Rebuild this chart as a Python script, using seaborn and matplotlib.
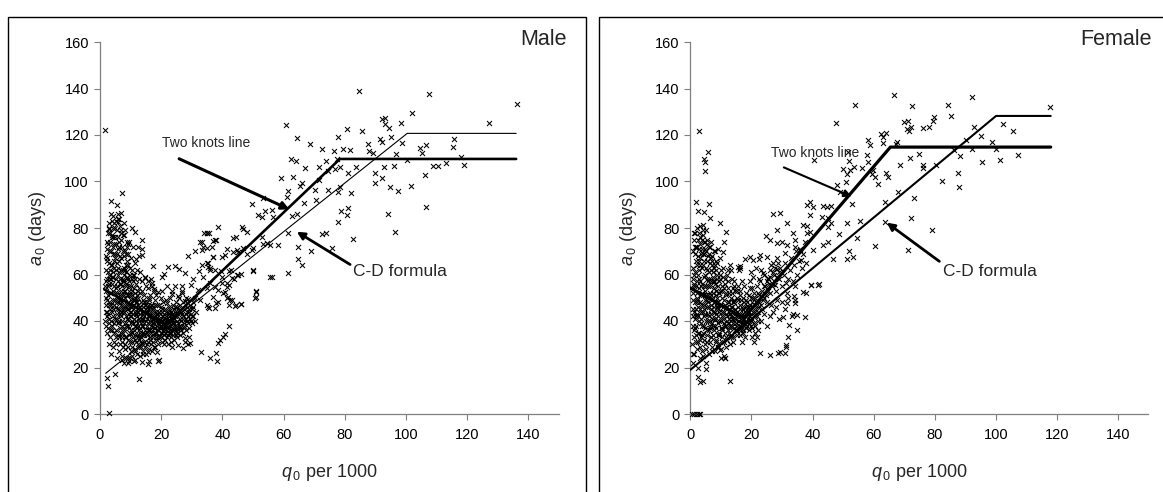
import numpy as np
import pandas as pd
import matplotlib
matplotlib.use("Agg")
import matplotlib.pyplot as plt
from matplotlib.patches import Rectangle
import seaborn as sns

# ---------------- data ----------------
# Male: dense cluster at low q0
male_cluster = [
(1.6,40),(1.8,47),(1.7,55),(2.0,62),(2.2,35),(2.1,68),(2.4,44),(2.6,51),(2.3,58),(2.8,30),(2.7,73),(2.9,65),(2.5,78),(1.9,50),(2.2,42),(2.6,37),(2.9,56),(3.0,48),(2.4,66),(2.0,53),(2.7,43),(3.0,60),(2.3,71),(1.8,57),(2.9,39),
(3.2,33),(3.4,45),(3.6,52),(3.3,58),(3.8,64),(3.5,70),(3.9,76),(3.1,82),(4.2,29),(4.0,38),(4.4,42),(4.1,49),(4.6,55),(4.3,61),(4.8,67),(4.5,73),(4.9,80),(4.2,85),(3.7,40),(3.4,62),(4.7,47),(3.9,56),(4.5,35),(3.2,74),(4.8,52),(3.6,47),(4.1,69),(4.4,59),(3.8,44),(4.9,41),(3.3,36),(4.6,63),(4.0,77),(3.5,26),(4.7,31),
(5.1,30),(5.3,36),(5.5,41),(5.2,46),(5.7,50),(5.4,55),(5.9,60),(5.6,65),(5.8,71),(5.0,76),(5.3,83),(6.1,27),(6.3,33),(6.0,39),(6.5,43),(6.2,48),(6.7,53),(6.4,58),(6.9,62),(6.6,68),(6.1,74),(6.8,79),(6.3,84),(6.0,86),(5.5,45),(6.5,37),(5.8,57),(6.7,44),(5.2,62),(6.4,51),(5.9,34),(6.9,56),(5.4,69),(6.2,40),(5.6,52),(6.8,47),(5.1,58),(6.6,30),(5.7,24),(6.3,72),
(7.1,25),(7.3,31),(7.5,35),(7.2,40),(7.7,44),(7.4,49),(7.9,53),(7.6,58),(7.8,63),(7.0,67),(7.3,72),(7.6,77),(7.9,82),(8.1,28),(8.3,33),(8.0,37),(8.5,42),(8.2,46),(8.7,51),(8.4,55),(8.9,59),(8.6,64),(8.1,70),(8.8,74),(8.3,79),(7.4,45),(8.5,38),(7.8,51),(8.7,47),(7.2,55),(8.4,61),(7.9,36),(8.9,41),(7.5,62),(8.2,53),(7.6,29),(8.6,33),(7.1,48),(8.0,57),(8.8,66),(7.7,22),(8.4,24),
(9.1,24),(9.3,29),(9.5,34),(9.2,38),(9.7,42),(9.4,47),(9.9,51),(9.6,55),(9.8,60),(9.0,64),(9.3,69),(9.6,74),(10.1,27),(10.3,31),(10.0,36),(10.5,40),(10.2,44),(10.7,49),(10.4,53),(10.9,57),(10.6,62),(10.1,67),(10.8,72),(9.4,43),(10.5,46),(9.8,35),(10.7,39),(9.2,51),(10.4,58),(9.9,31),(10.9,33),(9.5,57),(10.2,49),(9.6,23),(10.6,25),(9.1,45),(10.0,42),
(11.1,23),(11.3,28),(11.5,32),(11.2,36),(11.7,40),(11.4,44),(11.9,48),(11.6,52),(11.8,56),(11.0,60),(11.3,65),(12.1,26),(12.3,30),(12.0,34),(12.5,38),(12.2,42),(12.7,46),(12.4,50),(12.9,54),(12.6,58),(12.1,62),(12.8,68),(11.4,38),(12.5,44),(11.8,31),(12.7,36),(11.2,49),(12.4,53),(11.9,43),(12.9,41),(11.5,46),(12.2,48),(11.6,58),(12.6,32),
(13.1,25),(13.3,29),(13.5,33),(13.2,37),(13.7,41),(13.4,45),(13.9,49),(13.6,53),(13.8,57),(13.0,61),(14.1,27),(14.3,31),(14.0,35),(14.5,39),(14.2,43),(14.7,47),(14.4,51),(14.9,55),(14.6,59),(13.4,39),(14.5,42),(13.8,34),(14.7,36),(13.2,46),(14.4,48),(13.9,44),(14.9,45),(13.6,30),(14.2,26),
(15.1,26),(15.3,30),(15.5,34),(15.2,38),(15.7,42),(15.4,46),(15.9,50),(15.6,54),(15.8,57),(16.1,28),(16.3,32),(16.0,36),(16.5,40),(16.2,44),(16.7,47),(16.4,51),(16.9,55),(15.4,41),(16.5,43),(15.8,36),(16.7,38),(15.2,48),(16.4,33),(15.9,45),(16.9,40),(16.0,23),
(17.1,27),(17.3,31),(17.5,35),(17.2,39),(17.7,42),(17.4,46),(17.9,49),(17.6,53),(18.1,29),(18.3,33),(18.0,37),(18.5,40),(18.2,44),(18.7,47),(18.4,51),(17.4,41),(18.5,43),(17.8,37),(18.7,38),(17.2,45),(18.4,35),(18.9,41),
(19.1,30),(19.3,34),(19.5,37),(19.2,40),(19.7,43),(19.4,47),(19.9,50),(20.1,31),(20.3,35),(20.0,38),(20.5,41),(20.2,44),(20.7,48),(20.4,53),(21.1,32),(21.3,36),(21.0,39),(21.5,42),(21.2,45),(21.7,49),(21.9,55),(19.6,38),(20.6,36),(21.4,40),(20.9,43),(21.8,37),(19.8,33),(20.8,30),
(22.1,30),(22.3,34),(22.5,37),(22.2,40),(22.7,43),(22.4,46),(22.9,50),(23.1,31),(23.3,35),(23.0,38),(23.5,41),(23.2,44),(23.7,47),(23.4,53),(24.1,32),(24.3,36),(24.0,39),(24.5,42),(24.2,45),(24.7,48),(24.4,55),(25.1,33),(25.3,37),(25.0,40),(25.5,43),(25.2,46),(25.7,50),(22.6,39),(23.6,36),(24.6,38),(25.6,35),(23.9,42),(22.8,35),(24.8,34),(25.9,38),
(26.1,34),(26.3,38),(26.0,41),(26.5,44),(26.2,47),(26.7,52),(27.1,35),(27.3,39),(27.0,42),(27.5,45),(27.2,48),(27.7,31),(28.1,36),(28.3,40),(28.0,43),(28.5,46),(28.2,50),(28.7,30),(29.1,37),(29.3,41),(29.0,44),(29.5,47),(29.2,33),(30.1,39),(30.3,42),(30.0,45),(30.5,48),(31.1,40),(31.3,44),(26.6,36),(27.6,37),(28.6,39),(29.6,40),
]
# Male: the darkest core of the cluster
male_core = [
(1.9,44),(2.1,38),(2.3,49),(2.5,55),(2.7,61),(2.2,67),(2.8,47),(3.1,41),(3.3,52),(3.5,64),(3.7,58),(3.0,70),(3.9,36),(4.1,45),(4.3,53),(4.5,66),(4.0,59),(4.7,39),(4.9,49),(4.4,76),(5.2,33),(5.4,43),(5.6,48),(5.1,54),(5.8,63),(5.3,73),(5.9,39),(6.2,45),(6.4,56),(6.6,49),(6.1,61),(6.8,35),(6.3,66),(6.7,78),(7.0,42),(7.2,51),(7.4,57),(7.6,46),(7.1,38),(7.8,60),(7.3,33),(7.7,68),(8.0,44),(8.2,50),(8.4,39),(8.6,56),(8.1,62),(8.8,45),(8.3,30),(8.7,72),(9.0,41),(9.2,48),(9.4,53),(9.6,37),(9.1,58),(9.8,44),(9.3,32),(9.7,63),(10.0,46),(10.2,39),(10.4,51),(10.6,35),(10.1,55),(10.8,43),(10.3,29),(10.7,60),(11.0,41),(11.2,47),(11.4,34),(11.6,50),(11.1,54),(11.8,38),(11.3,27),(12.0,44),(12.2,37),(12.4,47),(12.6,29),(12.1,51),(12.8,40),(12.3,33),(13.0,43),(13.2,35),(13.4,48),(13.6,38),(13.1,52),(13.8,31),(14.0,46),(14.2,38),(14.4,34),(14.6,44),(14.1,41),(14.8,29),(15.0,40),(15.2,35),(15.4,44),(15.6,31),(15.1,47),(15.8,39),(16.0,42),(16.2,36),(16.4,46),(16.6,30),(16.1,49),(16.8,35),(17.0,41),(17.2,33),(17.4,38),(17.6,44),(17.1,47),(17.8,29),(18.0,40),(18.2,35),(18.4,42),(18.6,32),(18.1,47),(18.8,36),(19.0,39),(19.2,33),(19.4,44),(19.6,41),(19.1,36),(19.8,46),(20.0,35),(20.2,40),(20.4,38),(20.6,42),(20.1,45),(20.8,34),(21.0,37),(21.2,41),(21.4,35),(21.6,44),(21.1,38),(21.8,40),(22.0,33),(22.2,38),(22.4,42),(22.6,35),(22.1,44),(22.8,40),(23.0,36),(23.2,33),(23.4,39),(23.6,43),(23.1,41),(23.8,37),(24.0,34),(24.2,41),(24.4,37),(24.6,44),(24.1,39),(24.8,36),(25.0,35),(25.2,42),(25.4,39),(25.6,45),(26.0,37),(26.4,40),(26.8,43),(27.2,41),(27.6,38),(28.0,41),(28.4,44),(28.8,42),(29.2,45),(29.6,43),(30.0,42),(30.4,46),
(2.4,74),(2.8,80),(3.4,78),(3.8,83),(4.3,72),(4.7,82),(5.0,69),(5.5,79),(6.0,76),(6.5,81),(7.0,75),(7.5,70),(8.0,77),(8.5,69),(9.0,73),(3.6,86),(5.8,84),(4.1,80),
]
# Male: scattered points
male_spread = [
(1.6,122),(136.2,133.3),
(84.7,138.9),(107.4,137.6),(127.0,125.0),(60.8,124.3),(102.1,129.3),(92.1,126.7),(93.3,127.5),(93.0,124.6),(94.6,123.2),(98.4,125.3),
(64.4,118.9),(68.5,116.1),(72.7,114.0),(77.9,119.3),(80.7,122.6),(85.5,121.9),(76.5,113.1),(79.5,113.8),(81.8,113.5),(87.7,116.1),(91.5,118.1),(92.1,117.1),(95.1,119.3),(98.6,116.4),(87.9,113.0),(89.3,112.1),(96.6,111.8),(104.6,114.3),(106.4,115.7),(115.7,118.1),(115.5,114.7),(105.1,112.1),
(62.5,109.5),(64.1,108.8),(67.0,105.9),(71.5,106.4),(73.8,109.0),(77.6,109.7),(74.6,104.5),(76.8,105.4),(78.4,106.4),(81.2,103.5),(83.7,106.4),(89.9,103.8),(92.9,106.4),(96.1,106.7),(100.2,109.2),(108.9,106.7),(110.6,106.7),(113.1,107.8),(119.1,107.1),(118.0,110.4),(106.3,102.7),
(89.9,99.5),(92.3,101.4),(94.8,97.8),(97.4,95.9),(101.7,98.2),(59.3,101.6),(63.2,102.1),(65.4,98.1),(65.9,99.2),(61.3,95.9),(61.2,93.5),(70.3,96.3),(71.6,100.6),(74.4,96.3),(77.7,95.3),(78.4,97.8),(82.0,94.9),
(49.6,90.3),(53.2,93.0),(51.7,85.6),(52.8,84.6),(54.0,87.5),(56.2,87.7),(56.6,84.6),(62.8,85.2),(64.4,86.0),(66.8,90.6),(70.5,92.0),(78.7,87.3),(81.0,88.5),(80.8,85.6),(77.9,82.7),(94.1,86.0),(106.4,89.2),
(61.5,78.0),(72.4,77.3),(73.9,78.0),(96.4,78.4),(82.6,75.1),(75.7,71.3),
(38.7,80.3),(46.3,80.6),(46.8,79.4),(48.1,78.4),(44.3,76.3),(43.6,75.6),(35.1,77.7),(37.0,74.6),(37.9,74.8),
(41.4,71.0),(44.7,70.5),(46.8,71.3),(50.1,71.3),(53.4,73.1),(55.5,72.7),(58.3,72.7),(64.6,72.0),(68.9,70.1),(64.8,66.5),(65.9,64.1),(56.1,59.1),(61.5,60.5),
(36.8,67.4),(35.1,64.8),(35.9,61.9),(39.4,61.6),(42.0,61.5),(46.0,60.2),(49.9,61.6),(43.9,57.9),(42.3,55.5),(40.1,52.2),(41.6,50.0),(43.0,49.0),(44.5,46.8),(46.0,47.3),(50.9,53.0),(50.7,50.1),(35.7,45.7),(37.6,45.6),
(32.7,74.1),(34.9,77.7),(37.6,74.8),(33.2,70.5),(34.9,71.3),(36.5,72.0),(37.0,67.7),(39.8,67.7),(40.8,68.4),(43.6,69.8),(45.2,69.8),(47.9,68.8),(49.6,70.5),(33.2,64.1),(35.4,64.8),(35.9,62.7),(37.6,61.9),(39.8,59.1),(41.4,56.2),(43.0,58.4),(44.7,59.8),(35.9,56.2),(33.8,59.1),(37.6,54.8),(38.7,53.3),(37.0,50.5),(40.8,52.6),(42.5,49.0),(34.9,46.9),(37.9,47.6),(32.7,49.0),(54.5,73.4),(52.8,76.3),
(38.7,48.3),(41.7,50.2),(42.2,46.9),(44.1,46.5),(46.1,47.3),(35.4,46.2),(50.9,52.6),(50.9,50.2),(55.6,59.1),(49.9,61.9),(45.2,59.8),(42.8,61.9),(35.4,63.4),(39.8,56.5),(41.4,54.5),
(35.9,24.2),(37.8,26.4),(38.1,22.9),(38.5,30.7),(39.3,32.0),(40.1,33.0),(40.8,34.4),(42.2,38.0),(33.0,26.7),
(7.1,95.2),(3.6,91.6),(5.4,89.9),(6.9,86.3),(6.0,82.7),(2.9,79.4),(10.3,79.9),(11.4,78.4),(13.6,74.8),(12.3,71.7),(13.8,70.8),(11.7,66.5),(13.8,68.4),(17.4,63.7),(20.4,59.1),(20.8,60.2),(22.3,63.1),(24.5,63.8),(25.9,62.2),(27.8,60.5),(28.9,68.0),(31.0,70.3),(33.2,74.1),(33.8,71.7),(34.1,78.0),(35.6,77.7),(32.4,61.6),(30.5,57.9),(29.7,55.5),(26.9,53.0),(26.7,55.1),(25.6,50.8),(23.6,51.6),(21.8,47.6),(22.9,44.7),(24.5,46.2),(27.8,48.7),(28.9,49.3),(31.0,49.8),(32.1,53.3),(34.9,54.1),(17.8,53.8),(18.8,52.3),(16.9,56.2),(16.7,57.9),(14.7,58.4),
(2.4,15.3),(2.6,12.2),(4.8,17.3),(3.1,0.3),(7.1,23.2),(9.3,22.1),(9.8,23.9),(11.4,23.2),(12.7,14.9),(13.6,22.5),(15.6,21.5),(18.8,22.9),(19.3,23.2),(15.6,26.8),(18.5,26.8),(23.6,28.7),(25.6,29.7),(27.2,28.2),(29.4,30.7),(27.8,32.5),
]

# Female: dense cluster at low q0
female_cluster = [
(0.6,30),(0.8,38),(0.7,45),(1.0,52),(1.2,26),(1.1,60),(1.4,41),(1.6,48),(1.3,56),(1.8,34),(1.7,66),(1.9,72),(1.5,78),(0.9,63),(1.2,44),(1.6,37),(1.9,55),(2.0,49),(1.4,69),(1.0,22),(1.7,31),(0.7,58),(1.3,75),(1.8,42),(1.1,36),
(2.2,28),(2.4,35),(2.6,42),(2.3,48),(2.8,54),(2.5,60),(2.9,66),(2.1,72),(2.7,78),(3.2,24),(3.0,32),(3.4,39),(3.1,45),(3.6,51),(3.3,57),(3.8,63),(3.5,69),(3.9,75),(3.2,81),(2.6,46),(3.7,38),(2.9,58),(3.5,44),(2.3,64),(3.8,52),(2.5,31),(3.1,67),(3.4,55),(2.8,40),(3.9,47),(2.2,52),(3.6,33),(3.0,73),(2.4,20),(3.7,27),
(4.1,25),(4.3,32),(4.5,38),(4.2,44),(4.7,49),(4.4,55),(4.9,60),(4.6,66),(4.8,71),(4.0,77),(5.1,28),(5.3,34),(5.0,40),(5.5,46),(5.2,51),(5.7,57),(5.4,62),(5.9,68),(5.6,73),(5.1,79),(4.5,42),(5.5,36),(4.8,53),(5.7,48),(4.2,64),(5.4,58),(4.9,30),(5.9,43),(4.4,69),(5.2,22),(4.6,47),(5.8,55),(4.1,35),(5.3,66),(4.7,74),
(6.1,26),(6.3,31),(6.5,37),(6.2,42),(6.7,47),(6.4,52),(6.9,57),(6.6,62),(6.8,67),(6.0,72),(7.1,29),(7.3,34),(7.0,39),(7.5,44),(7.2,49),(7.7,54),(7.4,59),(7.9,64),(7.6,70),(6.4,40),(7.5,38),(6.8,51),(7.7,46),(6.2,58),(7.4,52),(6.9,33),(7.9,41),(6.5,65),(7.2,27),(6.6,45),(7.8,57),(6.1,36),(7.3,61),(6.7,74),(7.1,68),
(8.1,27),(8.3,32),(8.5,37),(8.2,41),(8.7,46),(8.4,51),(8.9,55),(8.6,60),(8.8,65),(8.0,70),(9.1,30),(9.3,35),(9.0,39),(9.5,44),(9.2,48),(9.7,53),(9.4,57),(9.9,62),(9.6,67),(8.4,43),(9.5,40),(8.8,50),(9.7,47),(8.2,56),(9.4,52),(8.9,34),(9.9,37),(8.5,62),(9.2,29),(8.6,48),(9.8,58),
(10.1,28),(10.3,33),(10.5,37),(10.2,42),(10.7,46),(10.4,50),(10.9,54),(10.6,59),(10.8,63),(11.1,31),(11.3,35),(11.0,39),(11.5,43),(11.2,47),(11.7,51),(11.4,56),(11.9,60),(12.1,32),(12.3,36),(12.0,40),(12.5,44),(12.2,48),(12.7,52),(12.4,57),(10.4,44),(11.5,38),(12.6,41),(11.8,46),(10.2,53),(12.9,38),(11.6,29),(12.2,62),(10.9,25),(11.3,24),
(13.1,30),(13.3,34),(13.5,38),(13.2,42),(13.7,46),(13.4,50),(13.9,54),(13.6,58),(14.1,33),(14.3,37),(14.0,41),(14.5,45),(14.2,49),(14.7,53),(14.4,57),(15.1,34),(15.3,38),(15.0,42),(15.5,46),(15.2,50),(15.7,55),(13.4,40),(14.5,43),(15.6,40),(14.8,36),(13.8,48),(15.9,37),(13.3,62),(14.0,31),
(16.1,34),(16.3,38),(16.5,41),(16.2,45),(16.7,49),(16.4,53),(16.9,57),(17.1,36),(17.3,39),(17.0,43),(17.5,46),(17.2,50),(17.7,55),(18.1,37),(18.3,40),(18.0,44),(18.5,48),(18.2,52),(18.7,38),(16.6,36),(17.6,41),(18.6,43),(17.8,33),(16.8,31),(18.9,46),(16.0,62),(16.4,63),
(19.1,36),(19.3,39),(19.5,42),(19.2,46),(19.7,50),(19.4,54),(20.1,33),(20.3,37),(20.0,40),(20.5,44),(20.2,48),(20.7,52),(21.1,35),(21.3,38),(21.0,42),(21.5,46),(21.2,50),(21.7,55),(22.1,36),(22.3,40),(22.0,44),(22.5,48),(22.2,52),(19.6,57),(20.8,31),(21.8,33),(20.6,59),(22.6,58),(19.9,61),(21.4,63),
(23.5,45),(24.0,50),(24.5,55),(25.0,48),(25.5,58),(26.0,52),(26.5,47),(27.0,56),(27.5,60),(28.0,53),(28.5,49),(29.0,58),(29.5,63),(30.0,55),(30.5,60),(31.0,65),(31.5,52),(32.0,58),(32.5,62),(33.0,67),(33.5,57),(34.0,64),(34.5,70),(35.0,60),(35.5,66),(36.0,71),(36.5,63),(37.0,69),(37.5,74),(38.0,65),(23.0,40),(24.0,43),(25.0,38),(26.0,42),(27.0,44),(28.0,46),(29.0,41),(30.0,48),(31.0,45),(32.0,50),(23.2,62),(24.2,60),(26.3,64),(28.2,67),(22.8,57),
]
# Female: the darkest core of the cluster
female_core = [
(0.7,42),(0.9,49),(1.1,55),(1.3,33),(1.5,61),(0.8,26),(1.7,45),(1.9,38),(2.1,57),(2.3,43),(2.5,68),(2.7,35),(2.2,50),(2.9,62),(3.1,29),(3.3,48),(3.5,41),(3.7,56),(3.2,64),(3.9,34),(4.1,51),(4.3,45),(4.5,59),(4.7,37),(4.2,69),(4.9,43),(5.1,55),(5.3,31),(5.5,49),(5.7,40),(5.2,63),(5.9,51),(6.1,46),(6.3,38),(6.5,55),(6.7,33),(6.2,61),(6.9,43),(7.1,50),(7.3,41),(7.5,57),(7.7,36),(7.2,64),(7.9,48),(8.1,44),(8.3,53),(8.5,31),(8.7,58),(8.2,38),(8.9,47),(9.1,42),(9.3,52),(9.5,34),(9.7,60),(9.2,45),(9.9,40),(10.1,47),(10.3,36),(10.5,55),(10.7,41),(10.2,31),(10.9,49),(11.1,44),(11.3,38),(11.5,52),(11.7,33),(11.2,58),(11.9,42),(12.1,46),(12.3,39),(12.5,35),(12.7,48),(12.2,54),(12.9,43),(13.1,37),(13.3,46),(13.5,41),(13.7,52),(13.2,33),(13.9,39),(14.1,44),(14.3,48),(14.5,36),(14.7,41),(14.2,55),(14.9,39),(15.1,44),(15.3,36),(15.5,49),(15.7,42),(15.2,53),(15.9,40),(16.1,43),(16.3,47),(16.5,37),(16.7,42),(16.2,51),(16.9,39),(17.1,41),(17.3,45),(17.5,38),(17.7,48),(17.2,35),(17.9,42),(18.1,40),(18.3,46),(18.5,38),(18.7,42),(18.2,49),(18.9,44),(19.1,40),(19.3,44),(19.5,47),(19.7,38),(19.2,51),(19.9,43),(20.1,41),(20.3,46),(20.5,50),(20.7,39),(20.2,54),(21.0,44),(21.4,48),(21.8,42),(22.2,46),(22.6,51),(23.0,47),(23.4,53),(23.8,49),(24.2,55),(24.6,51),(25.0,57),(25.4,53),(25.8,56),(26.2,59),(26.6,55),(27.0,61),(27.4,57),(27.8,63),(28.2,59),(28.6,65),(29.0,61),
(0.8,70),(1.2,78),(1.6,72),(2.0,80),(2.4,75),(2.8,71),(3.3,76),(3.7,71),(4.2,79),(4.6,74),(5.0,70),(5.5,75),(6.0,69),(6.4,72),(7.0,66),(7.6,63),(8.3,66),
]
# Female: scattered points
female_spread = [
(2.8,121.9),(4.4,109.5),(4.7,108.5),(5.9,112.5),(4.7,104.6),(1.8,91.3),(2.5,87.5),(4.5,86.7),(6.1,90.3),(6.3,84.4),(4.1,81.3),(9.6,82.0),(11.8,78.4),(9.0,70.8),(10.7,69.8),(11.0,74.1),(13.1,64.1),(15.6,63.1),(16.1,63.7),(17.8,66.5),(19.4,67.7),(20.5,66.2),(22.5,66.5),(22.9,68.4),
(0.6,0),(1.3,0),(2.0,0),(2.8,0),(3.3,0),
(2.5,16.1),(3.0,13.9),(4.1,14.2),(5.2,19.2),(12.9,14.2),(10.1,23.9),(11.2,23.9),(9.6,27.5),
(22.9,26.4),(26.0,25.4),(28.7,26.4),(29.5,26.8),(30.9,26.4),(32.0,33.3),(31.2,29.7),(31.4,29.0),
(30.3,41.9),(34.2,47.6),(33.8,50.8),(38.0,51.9),(39.6,55.5),(42.0,55.8),
(66.8,137.2),(92.3,136.2),(53.9,132.9),(72.7,132.5),(84.5,132.9),(85.4,128.2),(47.8,125.3),(69.9,125.7),(71.2,126.2),(70.8,122.4),(72.1,123.3),(71.7,121.7),(76.1,122.9),(78.3,123.3),(79.3,126.2),(79.9,127.6),
(64.1,121.0),(63.2,119.3),(62.3,120.4),(58.1,117.9),(58.8,115.7),(63.2,116.4),(67.8,117.1),(67.3,116.1),(93.0,123.3),(102.5,124.7),(105.8,121.9),(95.1,119.6),(98.9,117.1),(90.3,117.9),(92.3,114.1),(100.1,114.1),(107.2,111.4),(101.4,109.2),(95.4,108.5),(88.3,111.0),(86.3,113.5),
(75.0,111.7),(71.9,110.0),(68.6,107.1),(76.1,107.1),(76.3,105.7),(80.5,107.1),(87.5,103.8),(87.9,97.8),(82.5,100.4),(73.3,92.8),(68.1,95.6),(72.2,84.4),(79.0,79.1),(71.2,70.5),(60.5,72.3),(63.7,91.3),(63.7,82.7),
(64.8,102.1),(64.0,103.5),(61.5,98.8),(60.4,102.1),(59.4,103.2),(59.9,104.9),(58.3,108.5),(56.1,105.9),(53.6,106.1),(52.3,104.9),(50.1,105.4),(51.4,103.1),(50.9,99.9),(48.1,98.5),(49.0,95.6),(52.1,108.8),(51.5,112.8),(57.7,111.4),(40.6,109.2),
(39.2,91.3),(38.1,89.9),(40.3,88.9),(43.3,89.5),(44.6,89.2),(45.9,89.5),(39.2,85.6),(43.0,84.9),(45.2,84.2),(46.0,82.3),(45.2,80.6),(52.8,90.3),(51.2,82.3),(55.5,83.2),(48.8,77.4),(54.5,75.6),(52.1,70.3),(53.4,67.7),(51.2,66.5),(45.2,74.1),(43.5,72.7),(46.6,66.5),(40.3,70.5),(36.1,66.2),
(27.0,86.0),(29.3,86.6),(31.5,82.0),(28.5,79.1),(24.8,76.6),(26.1,74.8),(28.3,73.7),(29.9,74.1),(31.5,72.7),(33.7,77.7),(34.2,74.8),(37.0,81.3),(38.1,80.9),(38.1,77.7),(39.2,78.4),(34.2,72.0),(35.9,70.5),(31.0,69.4),
(25.2,67.7),(26.9,65.1),(23.9,60.5),(26.1,61.9),(28.3,62.2),(25.5,58.3),(27.7,55.5),(31.3,56.2),(34.3,55.1),(39.4,55.5),(41.9,55.5),(36.9,52.6),(34.3,49.0),(31.5,47.6),(33.2,42.1),(33.7,42.8),(34.8,42.4),(37.5,41.7),(34.8,36.0),(32.4,38.2),
(117.9,131.9),
]

# fitted lines (vertices)
male_knots_q = [1.4, 21.5, 78.4, 136.0]
male_knots_a = [53.6, 38.5, 109.7, 109.7]
male_cd_q = [1.85, 100.4, 136.0]
male_cd_a = [17.5, 120.7, 120.7]
female_knots_q = [0.0, 17.5, 65.5, 118.0]
female_knots_a = [54.2, 41.3, 114.8, 114.8]
female_cd_q = [0.0, 100.1, 118.0]
female_cd_a = [19.0, 128.2, 128.2]

x_ticks = [0, 20, 40, 60, 80, 100, 120, 140]
y_ticks = [0, 20, 40, 60, 80, 100, 120, 140, 160]

# ---------------- style ----------------
sns.set_theme(style="white")
plt.rcParams['font.family'] = ['Liberation Sans', 'DejaVu Sans']
plt.rcParams['mathtext.fontset'] = 'custom'
plt.rcParams['mathtext.rm'] = 'Liberation Sans'
plt.rcParams['mathtext.it'] = 'Liberation Sans:italic'

W, H = 1163, 492
fig = plt.figure(figsize=(W / 100, H / 100), dpi=100)

SPINE = '#7f7f7f'


def to_df(pts):
    return pd.DataFrame(pts, columns=['q0', 'a0'])


def make_panel(left_px, right_px, point_sets, kq, ka, kw, cq, ca, cw):
    ax = fig.add_axes([left_px / W, (H - 414) / H, (right_px - left_px) / W, (414 - 42) / H])
    df = pd.concat([to_df(p) for p in point_sets], ignore_index=True)
    sns.scatterplot(data=df, x='q0', y='a0', ax=ax, marker='x', color='black',
                    s=13, linewidth=0.75, clip_on=False, zorder=3)
    sns.lineplot(x=kq, y=ka, ax=ax, color='black', lw=kw, estimator=None, sort=False, zorder=4)
    sns.lineplot(x=cq, y=ca, ax=ax, color='black', lw=cw, estimator=None, sort=False, zorder=4)
    ax.set_xlim(0, 150)
    ax.set_ylim(0, 160)
    ax.set_xticks(x_ticks)
    ax.set_yticks(y_ticks)
    ax.tick_params(axis='both', which='major', direction='out', length=4, width=0.8,
                   color=SPINE, labelsize=10.5, labelcolor='black', pad=4,
                   bottom=True, left=True)
    ax.tick_params(axis='x', pad=6)
    for s in ['top', 'right']:
        ax.spines[s].set_visible(False)
    for s in ['left', 'bottom']:
        ax.spines[s].set_color(SPINE)
        ax.spines[s].set_linewidth(0.9)
    ax.set_facecolor('none')
    ax.grid(False)
    ax.set_xlabel(r'$\mathit{q}_{\,0}$ per 1000', fontsize=13)
    ax.set_ylabel(r'$\mathit{a}_{\,0}$ (days)', fontsize=13)
    ax.xaxis.set_label_coords(0.5, -0.128)
    ax.yaxis.set_label_coords(-0.113, 0.5)
    return ax


ax_m = make_panel(100, 559, [male_cluster, male_core, male_spread],
                  male_knots_q, male_knots_a, 1.9, male_cd_q, male_cd_a, 0.8)
ax_f = make_panel(690.4, 1148.4, [female_cluster, female_core, female_spread],
                  female_knots_q, female_knots_a, 2.3, female_cd_q, female_cd_a, 1.5)

arrow = dict(arrowstyle='-|>', color='black', shrinkA=0, shrinkB=0, mutation_scale=11)

# Male annotations
ax_m.annotate('Two knots line', xy=(61.9, 88.0), xytext=(34.8, 116.4), fontsize=10,
              ha='center', va='center', zorder=6,
              arrowprops=dict(arrow, lw=2.2, relpos=(0.19, -0.6)))
ax_m.annotate('C-D formula', xy=(64.3, 78.4), xytext=(82.8, 61.5), fontsize=12.5,
              ha='left', va='center', zorder=6,
              arrowprops=dict(arrow, lw=2.0, relpos=(0.0, 0.8)))
# Female annotations
ax_f.annotate('Two knots line', xy=(52.8, 93.5), xytext=(41.0, 112.1), fontsize=10,
              ha='center', va='center', zorder=6,
              arrowprops=dict(arrow, lw=1.5, relpos=(0.14, -0.5)))
ax_f.annotate('C-D formula', xy=(64.3, 82.3), xytext=(82.6, 61.5), fontsize=12.5,
              ha='left', va='center', zorder=6,
              arrowprops=dict(arrow, lw=2.0, relpos=(0.04, 0.8)))

# Panel titles
fig.text(566.7 / W, 1 - 45 / H, 'Male', ha='right', va='baseline', fontsize=15.5)
fig.text(1151.5 / W, 1 - 45 / H, 'Female', ha='right', va='baseline', fontsize=15.5)

# Panel frames
for x0, x1 in [(8, 585.7), (599, 1175)]:
    fig.add_artist(Rectangle((x0 / W, -0.05), (x1 - x0) / W, (1 - 17.3 / H) + 0.05,
                             transform=fig.transFigure, fill=False, lw=1.0,
                             edgecolor='black', clip_on=False))

fig.savefig('out.png', dpi=100)
